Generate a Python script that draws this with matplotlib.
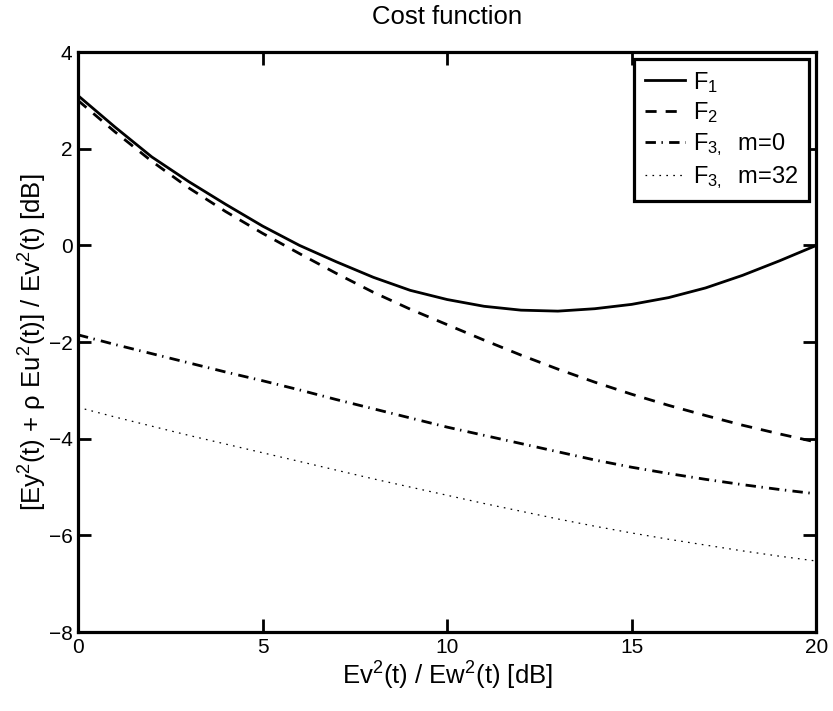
import matplotlib
matplotlib.use("Agg")
import numpy as np
import matplotlib.pyplot as plt

plt.rcParams.update({
    "font.family": ["Liberation Sans", "DejaVu Sans"],
    "font.size": 15,
    "mathtext.fontset": "custom",
    "mathtext.rm": "Liberation Sans",
    "mathtext.it": "Liberation Sans",
    "mathtext.default": "regular",
    "lines.scale_dashes": False,
})

# SNR axis [dB]
snr = np.arange(0, 21)
f1 = [3.10, 2.45, 1.83, 1.32, 0.85, 0.40, 0.00, -0.34, -0.66, -0.93, -1.12,
      -1.26, -1.34, -1.36, -1.31, -1.22, -1.08, -0.88, -0.62, -0.32, 0.00]
f2 = [3.00, 2.35, 1.74, 1.19, 0.70, 0.25, -0.17, -0.58, -0.97, -1.32, -1.64,
      -1.96, -2.27, -2.56, -2.83, -3.08, -3.31, -3.52, -3.72, -3.90, -4.07]
f3_m0 = [-1.85, -2.05, -2.24, -2.43, -2.62, -2.80, -2.99, -3.19, -3.38, -3.57, -3.76,
         -3.93, -4.10, -4.27, -4.44, -4.59, -4.72, -4.84, -4.95, -5.05, -5.14]
f3_m32 = [-3.35, -3.55, -3.74, -3.93, -4.11, -4.29, -4.47, -4.65, -4.83, -5.00, -5.17,
          -5.34, -5.50, -5.66, -5.81, -5.95, -6.08, -6.20, -6.32, -6.43, -6.53]
labels = ["F$_1$", "F$_2$", "F$_{3,}$  m=0", "F$_{3,}$  m=32"]

fig = plt.figure(figsize=(8.33, 7.11), dpi=100)
ax = fig.add_axes([0.0936, 0.111, 0.8864, 0.8158])

ax.plot(snr, f1, color="black", lw=2.0, label=labels[0])
ax.plot(snr, f2, color="black", lw=2.0, dashes=(8, 6.5), label=labels[1])
ax.plot(snr, f3_m0, color="black", lw=2.0, dashes=(7.5, 4, 1, 4.5), label=labels[2])
ax.plot(snr, f3_m32, color="black", lw=0.9, dashes=(1.2, 3.8), label=labels[3])

ax.set_xlim(0, 20)
ax.set_ylim(-8, 4)
ax.set_xticks([0, 5, 10, 15, 20])
ax.set_yticks([-8, -6, -4, -2, 0, 2, 4])
ax.set_yticklabels(["\u22128", "\u22126", "\u22124", "\u22122", "0", "2", "4"])
ax.tick_params(direction="in", length=9.5, width=2, top=True, right=True, labelsize=15, pad=4)
for s in ax.spines.values():
    s.set_linewidth(2.3)

ax.set_title("Cost function", fontsize=18.5, pad=20)
ax.set_xlabel("Ev$^2$(t) / Ew$^2$(t) [dB]", fontsize=18.5, labelpad=2)
ax.set_ylabel("[Ey$^2$(t) + \u03c1 Eu$^2$(t)] / Ev$^2$(t) [dB]", fontsize=18.5, labelpad=0)

leg = ax.legend(loc="upper right", fancybox=False, shadow=False, framealpha=1,
                edgecolor="black", fontsize=17, handlelength=1.7, handletextpad=0.35,
                labelspacing=0.25, borderaxespad=0.3, borderpad=0.45)
leg.get_frame().set_linewidth(2.3)

fig.savefig("out.png", dpi=100, facecolor="white")
